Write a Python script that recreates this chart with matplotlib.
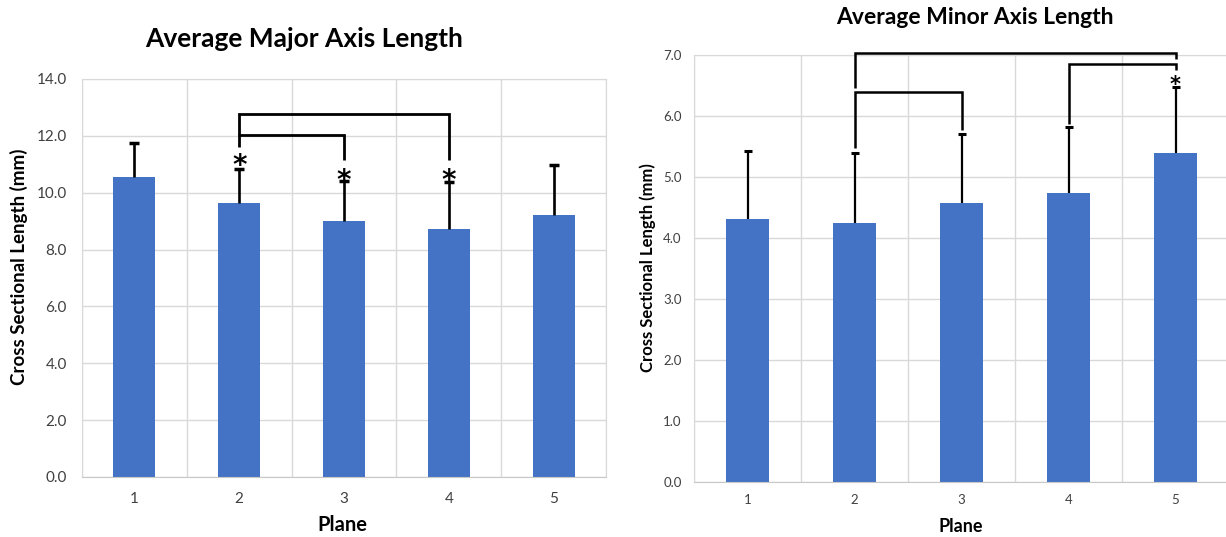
import numpy as np
import matplotlib
matplotlib.use('Agg')
import matplotlib.pyplot as plt
from matplotlib.transforms import offset_copy

# Plane labels and measurements (mean, SD) in mm
planes = ['1', '2', '3', '4', '5']
major_mean = [10.55, 9.65, 9.0, 8.73, 9.22]
major_sd = [1.2, 1.2, 1.42, 1.65, 1.76]
minor_mean = [4.31, 4.25, 4.57, 4.74, 5.39]
minor_sd = [1.12, 1.14, 1.13, 1.08, 1.09]

# Significance brackets: (plane a, plane b, height, leg end a, leg end b)
major_brackets = [(2, 4, 12.78, 12.04, 11.16), (2, 3, 12.04, 11.6, 11.16)]
major_stars = [(2, 11.2), (3, 10.7), (4, 10.7)]
minor_brackets = [(2, 5, 7.03, 6.46, 6.93), (2, 3, 6.39, 5.48, 5.77), (4, 5, 6.85, 5.87, 6.75)]
minor_stars = [(5, 6.6)]

plt.rcParams.update({'font.family': ['Lato', 'DejaVu Sans']})
bar_col = '#4472C4'
grid_col = '#d9d9d9'
W, H = 1226, 537

fig = plt.figure(figsize=(W / 100, H / 100), dpi=100)
fig.set_facecolor('white')


def px_axes(left, top, right, bottom):
    return fig.add_axes([left / W, 1 - bottom / H, (right - left) / W, (bottom - top) / H])


def draw_panel(ax, means, sds, ymax, step, tick_fs, lw, capw, pad):
    x = np.arange(1, len(planes) + 1)
    tops = np.array(means) + np.array(sds)
    ax.bar(x, means, width=0.4, color=bar_col, zorder=2)
    # upper-only error bars with a cap at the top
    ax.vlines(x, means, tops, color='black', lw=lw, zorder=3)
    ax.plot(x, tops, ls='none', marker='_', ms=capw, mew=lw + 0.6, color='black', zorder=3)
    ax.set_xlim(0.5, len(planes) + 0.5)
    ax.set_ylim(0, ymax)
    ax.set_xticks(x)
    ax.set_xticklabels(planes)
    yt = np.arange(0, ymax + 0.01, step)
    ax.set_yticks(yt)
    ax.set_yticklabels(['%.1f' % v for v in yt])
    ax.set_xticks(np.arange(0.5, len(planes) + 1, 1), minor=True)
    ax.grid(axis='y', color=grid_col, lw=1, zorder=0)
    ax.grid(axis='x', which='minor', color=grid_col, lw=1, zorder=0)
    ax.tick_params(axis='both', which='both', length=0, labelsize=tick_fs,
                   colors='#404040', pad=pad)
    for s in ax.spines.values():
        s.set_color(grid_col)
    ax.spines['bottom'].set_color('#c8c8c8')


def draw_brackets(ax, brackets, lw):
    for a, b, y, ya, yb in brackets:
        ax.plot([a, a, b, b], [ya, y, y, yb], color='black', lw=lw,
                solid_joinstyle='miter', solid_capstyle='butt', zorder=4, clip_on=False)


def draw_stars(ax, stars, fs):
    # shift down so the glyph is centred on the given height
    tr = offset_copy(ax.transData, fig=fig, y=-0.57 * fs, units='points')
    for p, y in stars:
        ax.text(p, y, '*', transform=tr, ha='center', va='baseline', fontsize=fs,
                fontweight='bold', family='DejaVu Sans', color='black', zorder=5, clip_on=False)


# Left panel - major axis
ax1 = px_axes(82, 79, 606, 477)
draw_panel(ax1, major_mean, major_sd, 14, 2, 11, 1.9, 7, 11)
draw_brackets(ax1, major_brackets, 2.0)
draw_stars(ax1, major_stars, 20)

fig.text(304 / W, 1 - 39 / H, 'Average Major Axis Length', ha='center', va='center',
         fontsize=19, fontweight='bold')
fig.text(342 / W, 1 - 525 / H, 'Plane', ha='center', va='center',
         fontsize=14.5, fontweight='bold')
fig.text(19 / W, 1 - 267 / H, 'Cross Sectional Length (mm)', ha='center', va='center',
         rotation=90, fontsize=13.5, fontweight='bold')

# Right panel - minor axis
ax2 = px_axes(694, 55, 1229, 482)
draw_panel(ax2, minor_mean, minor_sd, 7, 1, 9.5, 1.6, 6, 9)
draw_brackets(ax2, minor_brackets, 1.8)
draw_stars(ax2, minor_stars, 15)

fig.text(975 / W, 1 - 18 / H, 'Average Minor Axis Length', ha='center', va='center',
         fontsize=16.5, fontweight='bold')
fig.text(961 / W, 1 - 526 / H, 'Plane', ha='center', va='center',
         fontsize=13, fontweight='bold')
fig.text(648 / W, 1 - 268 / H, 'Cross Sectional Length (mm)', ha='center', va='center',
         rotation=90, fontsize=12, fontweight='bold')

fig.savefig('out.png', dpi=100, facecolor='white')
